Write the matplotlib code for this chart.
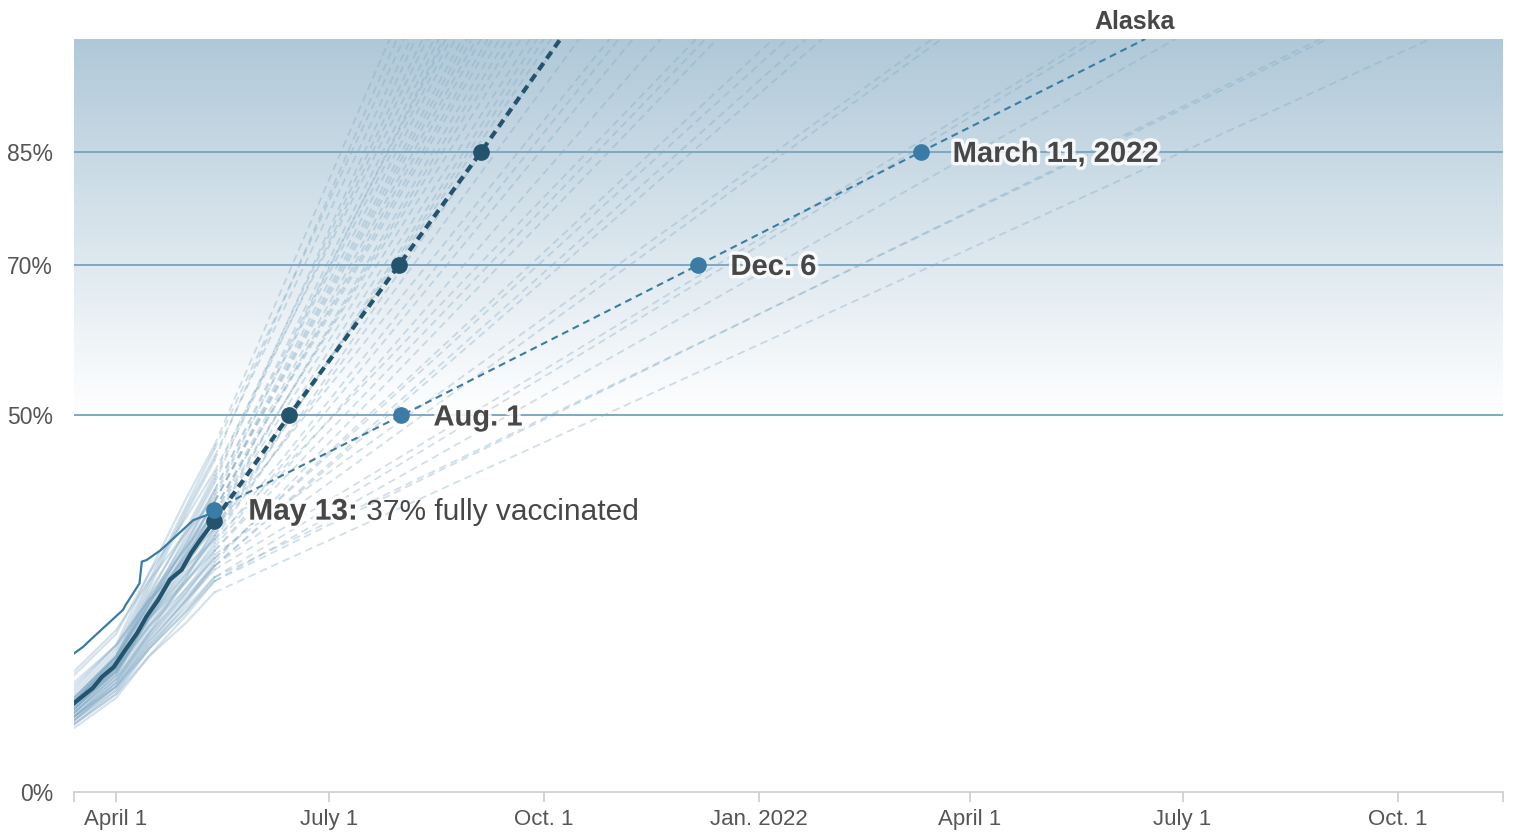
import numpy as np
import matplotlib.pyplot as plt
import matplotlib.dates as mdates
import matplotlib.patheffects as pe
from matplotlib.colors import LinearSegmentedColormap

plt.rcParams['font.family'] = ['Liberation Sans', 'DejaVu Sans']
plt.rcParams['lines.scale_dashes'] = False

# US average (dark line): daily share fully vaccinated
us_dates = np.array(['2021-03-14', '2021-03-22', '2021-03-26', '2021-03-31', '2021-04-05',
                     '2021-04-10', '2021-04-14', '2021-04-19', '2021-04-24', '2021-04-29',
                     '2021-05-03', '2021-05-07', '2021-05-13'], dtype='datetime64[D]')
us_values = [11.8, 13.8, 15.3, 16.6, 18.9, 21.1, 23.3, 25.5, 28.2, 29.5, 31.7, 33.5, 36.0]
us_proj_dates = np.array(['2021-05-13', '2021-06-14', '2021-07-31', '2021-09-04', '2021-10-08'],
                         dtype='datetime64[D]')
us_proj_values = [36.0, 50, 70, 85, 100]

# Alaska (highlighted)
ak_dates = np.array(['2021-03-14', '2021-03-18', '2021-03-21', '2021-03-28', '2021-04-04',
                     '2021-04-05', '2021-04-11', '2021-04-12', '2021-04-14', '2021-04-20',
                     '2021-04-27', '2021-05-04', '2021-05-10', '2021-05-13'], dtype='datetime64[D]')
ak_values = [18.4, 19.3, 20.2, 22.2, 24.2, 24.8, 27.7, 30.6, 30.8, 32.1, 34.1, 36.1, 36.8, 37.5]
ak_proj_dates = np.array(['2021-05-13', '2021-08-01', '2021-12-06', '2022-03-11', '2022-06-15'],
                         dtype='datetime64[D]')
ak_proj_values = [37.5, 50, 70, 85, 100]
ak_labels = ['Aug. 1', 'Dec. 6', 'March 11, 2022']
ak_note = '37% fully vaccinated'

# other states: history at five dates, then the date each would reach 100%
state_hist_dates = np.array(['2021-03-14', '2021-04-01', '2021-04-15', '2021-05-01', '2021-05-13'],
                            dtype='datetime64[D]')
state_mar14 = [13.5, 12.0, 13.0, 12.5, 11.5, 12.0, 12.0, 15.5, 16.0, 12.5, 12.0, 12.0, 11.0, 10.5,
               11.5, 12.0, 10.5, 11.5, 11.0, 11.0, 11.0, 12.5, 12.0, 10.5, 14.0, 11.5, 11.0, 12.5,
               11.5, 10.5, 9.5, 10.0, 11.0, 12.0, 14.5, 10.0, 9.0, 10.5, 12.0, 9.5, 10.0, 10.0,
               9.0, 9.5, 10.0, 8.5, 9.5, 10.0, 9.0]
state_apr1 = [19.5, 18.0, 19.0, 18.5, 17.0, 17.5, 18.0, 21.0, 21.5, 18.0, 17.5, 17.5, 16.5, 16.0,
              17.0, 17.5, 15.5, 16.5, 16.5, 16.5, 16.0, 18.0, 18.0, 15.5, 19.5, 16.0, 16.0, 18.0,
              16.5, 15.5, 14.5, 15.0, 16.0, 17.0, 19.5, 15.0, 13.5, 15.0, 16.5, 14.0, 14.5, 14.5,
              13.0, 14.0, 14.0, 12.5, 13.5, 14.0, 13.0]
state_apr15 = [29.0, 27.0, 28.0, 27.5, 25.0, 26.0, 26.5, 29.0, 28.0, 25.5, 25.0, 25.5, 24.5, 24.0,
               24.0, 25.0, 23.5, 23.5, 24.0, 24.0, 23.0, 25.0, 26.0, 23.0, 25.5, 22.5, 23.0, 24.5,
               23.0, 22.0, 21.0, 21.5, 22.0, 23.0, 25.5, 21.0, 19.5, 21.0, 22.0, 20.0, 20.5, 20.5,
               19.0, 20.0, 19.5, 18.0, 19.0, 19.0, 18.0]
state_may1 = [39.0, 37.0, 38.0, 37.5, 34.0, 35.0, 34.5, 36.5, 34.5, 33.5, 33.0, 32.5, 33.0, 32.0,
              32.0, 32.5, 31.0, 31.0, 31.5, 31.5, 30.0, 31.5, 32.5, 30.5, 31.0, 29.0, 29.5, 30.5,
              29.0, 28.5, 28.5, 28.0, 28.0, 28.0, 30.0, 27.0, 25.5, 26.5, 27.0, 25.5, 26.0, 26.5,
              25.0, 25.5, 24.5, 23.5, 24.0, 24.0, 22.5]
state_may13 = [46.0, 44.0, 45.5, 44.5, 41.0, 42.0, 41.5, 42.5, 39.0, 40.0, 39.5, 38.5, 40.0, 38.5,
               38.5, 38.5, 37.5, 37.0, 37.5, 37.5, 36.0, 36.5, 37.0, 36.0, 35.0, 34.0, 34.5, 35.0,
               33.5, 34.0, 35.0, 33.0, 32.5, 32.0, 33.5, 32.0, 30.5, 31.0, 31.0, 30.0, 30.0, 31.5,
               30.0, 29.5, 28.5, 28.0, 28.0, 28.5, 26.5]
state_full_date = np.array([
    '2021-07-27', '2021-07-30', '2021-08-02', '2021-08-05', '2021-08-07', '2021-08-10', '2021-08-12',
    '2021-08-15', '2021-08-19', '2021-08-17', '2021-08-22', '2021-08-24', '2021-08-20', '2021-08-27',
    '2021-08-29', '2021-08-31', '2021-09-02', '2021-09-04', '2021-09-07', '2021-09-09', '2021-09-12',
    '2021-09-15', '2021-09-18', '2021-09-21', '2021-09-25', '2021-09-28', '2021-10-01', '2021-10-04',
    '2021-10-08', '2021-10-16', '2021-10-29', '2021-11-02', '2021-11-08', '2021-11-20', '2021-12-05',
    '2021-12-09', '2021-12-14', '2022-01-07', '2022-01-13', '2022-01-21', '2022-01-28', '2022-03-16',
    '2022-03-20', '2022-05-22', '2022-05-26', '2022-06-28', '2022-08-29', '2022-09-01', '2022-10-15'],
    dtype='datetime64[D]')

tick_dates = np.array(['2021-04-01', '2021-07-01', '2021-10-01', '2022-01-01',
                       '2022-04-01', '2022-07-01', '2022-10-01'], dtype='datetime64[D]')
tick_labels = ['April 1', 'July 1', 'Oct. 1', 'Jan. 2022', 'April 1', 'July 1', 'Oct. 1']
x_start = np.datetime64('2021-03-14')
x_end = np.datetime64('2022-11-15')

DARK = '#24536d'
AK = '#3a7ca5'
FAINT = '#7fa8c4'
TEXT = '#474747'

fig = plt.figure(figsize=(15.13, 8.34), dpi=100)
ax = fig.add_axes([74 / 1513, 42 / 834, 1429 / 1513, 753 / 834])

# background gradient from 50% up to the top
x0, x1 = mdates.date2num(x_start), mdates.date2num(x_end)
cmap = LinearSegmentedColormap.from_list('bg', ['#ffffff', '#afc8d8'])
grad = np.linspace(1, 0, 256).reshape(-1, 1)
ax.imshow(grad, extent=[x0, x1, 50, 100], aspect='auto', cmap=cmap, zorder=0)

# faint state lines
for i in range(len(state_may13)):
    hist = [state_mar14[i], state_apr1[i], state_apr15[i], state_may1[i], state_may13[i]]
    ax.plot(state_hist_dates, hist, color=FAINT, alpha=0.33, lw=1.6, zorder=2)
    ax.plot([state_hist_dates[-1], state_full_date[i]], [state_may13[i], 100],
            color=FAINT, alpha=0.36, lw=1.3, dashes=(5.5, 3.5), zorder=2)

for g in [50, 70, 85]:
    ax.axhline(g, color='#7ea8c2', lw=1.4, zorder=2.5)

# Alaska
ax.plot(ak_dates, ak_values, color=AK, lw=1.6, zorder=3)
ax.plot(ak_proj_dates, ak_proj_values, color=AK, lw=1.5, dashes=(5, 3.5), zorder=3)

# US
ax.plot(us_dates, us_values, color=DARK, lw=3, zorder=4)
ax.plot(us_proj_dates, us_proj_values, color=DARK, lw=3, dashes=(6, 4), zorder=4)
ax.plot(us_proj_dates[:4], us_proj_values[:4], 'o', color=DARK, ms=11, zorder=5)
ax.plot(ak_proj_dates[:4], ak_proj_values[:4], 'o', color=AK, ms=11, zorder=6)

stroke = [pe.withStroke(linewidth=5, foreground='white', alpha=0.85)]
for d, v, lab in zip(ak_proj_dates[1:4], ak_proj_values[1:4], ak_labels):
    ax.annotate(lab, xy=(d, v), xytext=(32, -2), textcoords='offset pixels',
                ha='left', va='center', fontsize=21, fontweight='bold', color=TEXT,
                path_effects=stroke, zorder=7)

t1 = ax.annotate('May 13:', xy=(ak_proj_dates[0], ak_proj_values[0]), xytext=(34, -2),
                 textcoords='offset pixels', ha='left', va='center', fontsize=21.5,
                 fontweight='bold', color=TEXT, path_effects=stroke, zorder=7)
ax.annotate(' ' + ak_note, xy=(1, 0), xycoords=t1,
            ha='left', va='bottom', fontsize=21.5, color=TEXT, zorder=7)

ax.annotate('Alaska', xy=(ak_proj_dates[-1], 100), xytext=(-11, 10), textcoords='offset pixels',
            ha='center', va='baseline', fontsize=18, fontweight='bold', color=TEXT,
            annotation_clip=False)

ax.set_xlim(x_start, x_end)
ax.set_ylim(0, 100)

ax.set_yticks([0, 50, 70, 85])
ax.set_yticklabels(['0%', '50%', '70%', '85%'])
ax.tick_params(axis='y', length=0, pad=15, labelsize=16.5, labelcolor='#555555')

ax.set_xticks(tick_dates)
ax.set_xticklabels(tick_labels)
ax.set_xticks([x_start, x_end], minor=True)
ax.tick_params(axis='x', which='both', length=7, width=1.2, color='#cccccc',
               labelsize=16, labelcolor='#555555', pad=5)

for s in ['top', 'right', 'left']:
    ax.spines[s].set_visible(False)
ax.spines['bottom'].set_color('#cccccc')
ax.spines['bottom'].set_linewidth(1.2)

fig.savefig('out.png', dpi=100)
